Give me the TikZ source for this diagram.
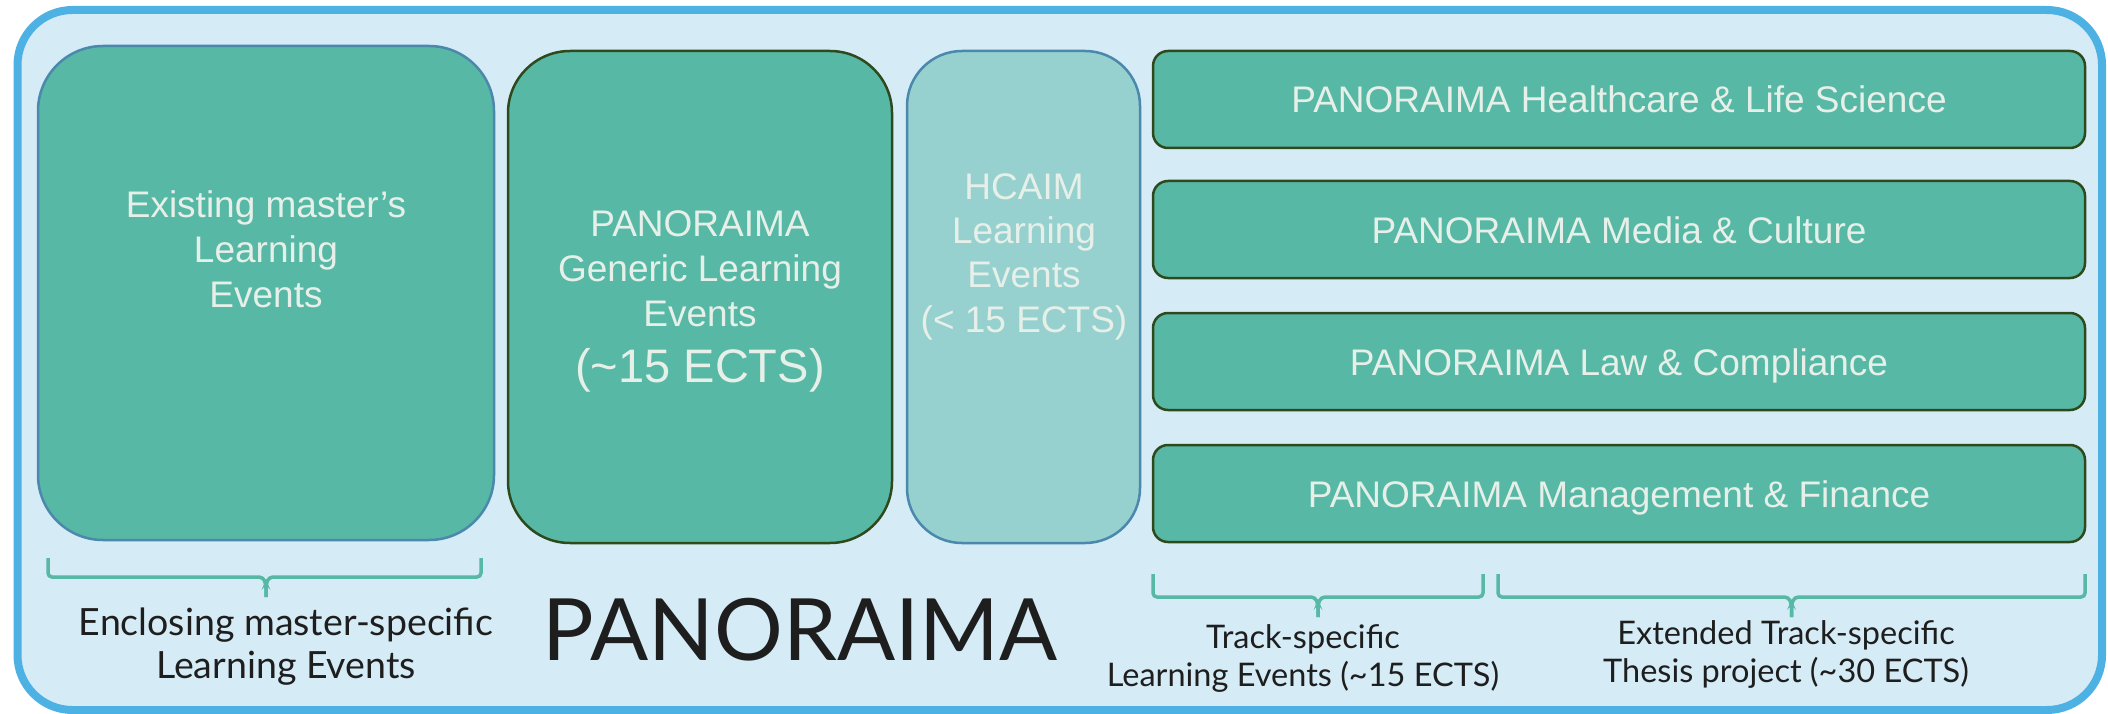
\documentclass[tikz,border=0pt]{standalone}
\usepackage{fontspec}
\setmainfont{Liberation Sans}
\newfontfamily\latofont{Lato}
\definecolor{framefill}{HTML}{D5EBF6}
\definecolor{frameline}{HTML}{4DB2E3}
\definecolor{teal}{HTML}{58B8A6}
\definecolor{lightteal}{HTML}{97D1CF}
\definecolor{darkedge}{HTML}{2E4A1C}
\definecolor{blueedge}{HTML}{4A88AC}
\definecolor{boxtext}{HTML}{E6F0E8}
\definecolor{labeltext}{HTML}{1E1E1E}
\tikzset{
  bigbox/.style={draw, line width=2.5pt, fill=teal, inner sep=0pt},
  trackbox/.style={draw=darkedge, line width=2.5pt, fill=teal, rounded corners=15pt,
    minimum width=932pt, minimum height=97pt, inner sep=0pt},
  boxlabel/.style={text=boxtext, align=center, inner sep=0pt, anchor=base,
    font=\fontsize{37}{45}\selectfont},
  tracklabel/.style={text=boxtext, inner sep=0pt, anchor=base,
    font=\fontsize{37}{45}\selectfont},
  bottomlabel/.style={text=labeltext, align=center, inner sep=0pt, anchor=base},
  bracestyle/.style={draw=teal, line width=3.5pt, rounded corners=4pt}
}
\begin{document}
\begin{tikzpicture}[x=1pt, y=-1pt]
\useasboundingbox (0,0) rectangle (2108,714);
% outer frame
\draw[fill=framefill, draw=frameline, line width=8pt, rounded corners=55pt]
  (17.5,10) rectangle (2102,710);
% big boxes
\node[bigbox, draw=blueedge, rounded corners=65pt, minimum width=456pt, minimum height=494pt]
  (exist) at (266,293) {};
\node[bigbox, draw=darkedge, rounded corners=62pt, minimum width=384pt, minimum height=492pt]
  (generic) at (700,297) {};
\node[bigbox, draw=blueedge, fill=lightteal, rounded corners=55pt, minimum width=233pt, minimum height=492pt]
  (hcaim) at (1023.5,297) {};
% track boxes
\node[trackbox] (health) at (1619,99.5) {};
\node[trackbox] (media) at (1619,229.5) {};
\node[trackbox] (law) at (1619,361.5) {};
\node[trackbox] (mgmt) at (1619,493.5) {};
% box texts (base anchor = baseline of last line)
\node[boxlabel] (existtxt) at (266,307) {Existing master’s\\Learning\\Events};
\node[boxlabel] (gentxt) at (700,326) {PANORAIMA\\Generic Learning\\Events};
\node[boxlabel, font=\fontsize{47}{56}\selectfont] (genects) at (700,382) {(\textasciitilde 15 ECTS)};
\node[boxlabel, font=\fontsize{37}{44.3}\selectfont] (hcaimtxt) at (1024,332) {HCAIM\\Learning\\Events\\(< 15 ECTS)};
\node[tracklabel] (healthtxt) at ([yshift=-13.5pt]health.center) {PANORAIMA Healthcare \& Life Science};
\node[tracklabel] (mediatxt) at ([yshift=-13.5pt]media.center) {PANORAIMA Media \& Culture};
\node[tracklabel] (lawtxt) at ([yshift=-13.5pt]law.center) {PANORAIMA Law \& Compliance};
\node[tracklabel] (mgmttxt) at ([yshift=-13.5pt]mgmt.center) {PANORAIMA Management \& Finance};
% braces
\coordinate (b1l) at (48,558);
\coordinate (b1r) at (481,558);
\coordinate (b1t) at (266,597);
\draw[bracestyle] (b1l) -- (48,577) -- (263,577) -- (266,584) -- (b1t);
\draw[bracestyle] (b1t) -- (266,584) -- (269,577) -- (481,577) -- (b1r);
\coordinate (b2l) at (1153,574);
\coordinate (b2r) at (1483,574);
\coordinate (b2t) at (1318,617);
\draw[bracestyle] (b2l) -- (1153,597) -- (1315,597) -- (1318,604) -- (b2t);
\draw[bracestyle] (b2t) -- (1318,604) -- (1321,597) -- (1483,597) -- (b2r);
\coordinate (b3l) at (1498,574);
\coordinate (b3r) at (2085,574);
\coordinate (b3t) at (1791.5,617);
\draw[bracestyle] (b3l) -- (1498,597) -- (1788.5,597) -- (1791.5,604) -- (b3t);
\draw[bracestyle] (b3t) -- (1791.5,604) -- (1794.5,597) -- (2085,597) -- (b3r);
% bottom labels (base anchor = baseline of last line)
\node[bottomlabel, font=\latofont\fontsize{37.5}{43}\selectfont] (enclose) at (286,678)
  {Enclosing master-specific\\Learning Events};
\node[bottomlabel, font=\latofont\fontsize{86}{90}\selectfont] (panoraima) at (800,660) {PANORAIMA};
\node[bottomlabel, font=\latofont\fontsize{32.5}{38}\selectfont] (tracklbl) at (1303,686)
  {Track-specific\\Learning Events (\textasciitilde 15 ECTS)};
\node[bottomlabel, font=\latofont\fontsize{32.5}{38}\selectfont] (thesislbl) at (1786,682)
  {Extended Track-specific\\Thesis project (\textasciitilde 30 ECTS)};
\end{tikzpicture}
\end{document}
